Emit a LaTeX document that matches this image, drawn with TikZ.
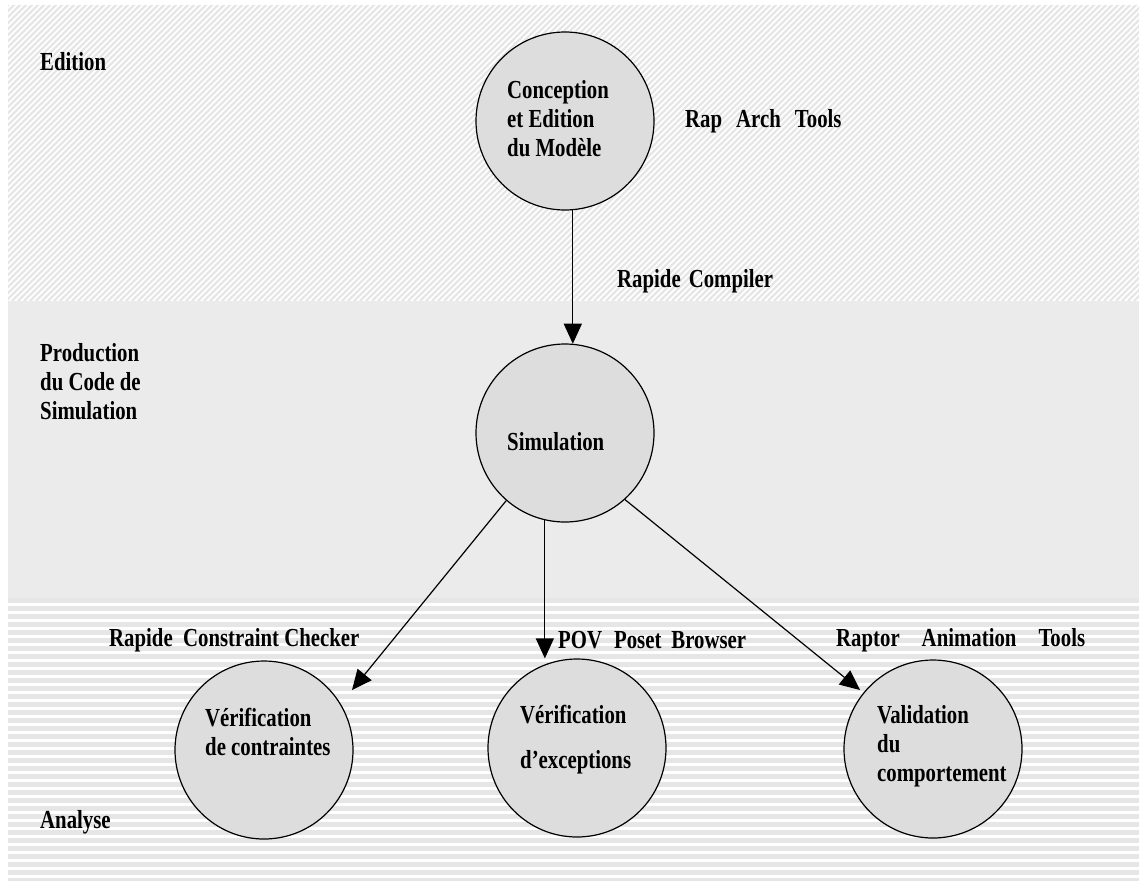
\documentclass[tikz,border=0pt]{standalone}
\usepackage{fontspec}
\setmainfont{Liberation Serif}[FakeStretch=0.8]
\usetikzlibrary{arrows.meta}
\definecolor{circfill}{HTML}{DDDDDD}
\definecolor{midband}{HTML}{EBEBEB}
\definecolor{stripe}{HTML}{E6E6E6}
\begin{document}
\begin{tikzpicture}[x=1pt,y=-1pt,
  circ/.style={circle,draw=black,line width=1.2pt,fill=circfill,minimum size=178pt,inner sep=0pt},
  txt/.style={font=\fontsize{26}{29}\selectfont\bfseries,align=left,inner sep=0pt,anchor=west},
  arr/.style={-{Triangle[length=20pt,width=18pt]},line width=1.2pt,black}]
\useasboundingbox (0,0) rectangle (1139,881);
% top band: diagonal stripes
\begin{scope}
  \clip (8,5) rectangle (1139,301);
  \fill[white] (8,5) rectangle (1139,301);
  \foreach \i in {-300,-294,...,1140} \draw[stripe,line width=2.2pt] (\i,301) -- ++(300,-300);
\end{scope}
% middle band
\fill[midband] (8,301) rectangle (1139,598);
% bottom band: horizontal stripes
\begin{scope}
  \clip (8,598) rectangle (1139,880);
  \fill[white] (8,598) rectangle (1139,880);
  \foreach \j in {600,608,...,880} \draw[stripe,line width=5pt] (8,\j) -- (1139,\j);
\end{scope}
% circles
\node[circ] (con) at (565,121) {};
\node[circ] (sim) at (565,433) {};
\node[circ] (ctr) at (264,750) {};
\node[circ] (exc) at (577,748) {};
\node[circ] (val) at (933,749) {};
% texts in circles
\node[txt] (conT) at (507,119) {Conception\\et Edition\\du Modèle};
\node[txt] (simT) at (507,442) {Simulation};
\node[txt] (ctrT) at (205,732) {Vérification\\de contraintes};
\node[txt] (excT) at (520,740) {Vérification\\[16pt]d’exceptions};
\node[txt] (valT) at (877,746) {Validation\\du\\comportement};
% side labels
\node[txt] (edT) at (40,62) {Edition};
\node[txt] (pcT) at (40,382) {Production\\du Code de\\Simulation};
\node[txt] (anT) at (40,822) {Analyse};
\node[txt] (ratT) at (685,121) {Rap\hspace{14pt}Arch\hspace{14pt}Tools};
\node[txt] (rcT) at (617,281) {Rapide\hspace{8pt}Compiler};
\node[txt] (ccT) at (109,640) {Rapide\ \ Constraint Checker};
\node[txt] (pvT) at (558,640) {POV\hspace{12pt}Poset\hspace{10pt}Browser};
\node[txt] (raT) at (836,640) {Raptor\hspace{22pt}Animation\hspace{22pt}Tools};
% connectors
\coordinate (tipC) at (352,690);
\coordinate (tipV) at (860,690);
\draw[arr] (con.-85.5) -- (sim.85.4);
\draw[arr] (sim.-131.9) -- (tipC);
\draw[arr] (sim.-103.6) -- (sim.-103.6 |- exc.north);
\draw[arr] (sim.-48.5) -- (tipV);
\end{tikzpicture}
\end{document}
